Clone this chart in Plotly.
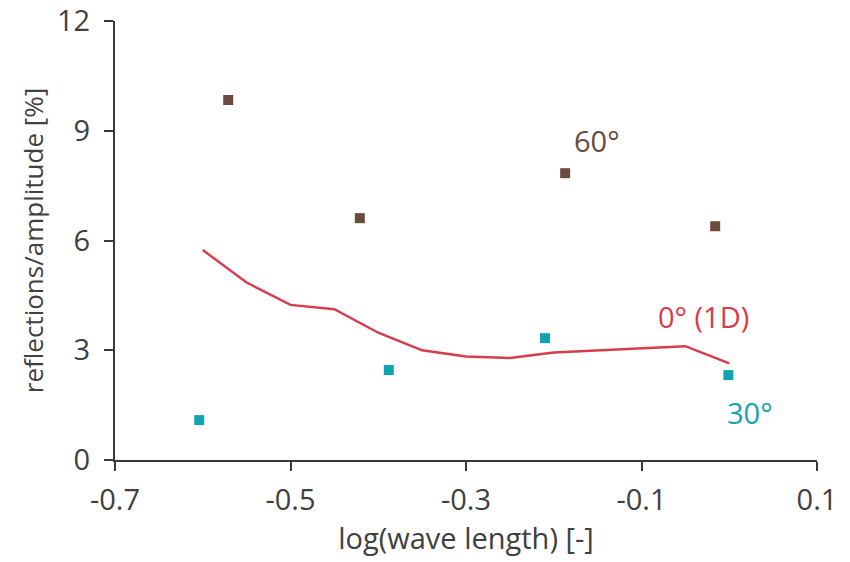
import plotly.graph_objects as go

# 0° (1D) reference curve
x_1d = [-0.6, -0.55, -0.5, -0.45, -0.4, -0.35, -0.3, -0.25, -0.2, -0.15, -0.1, -0.05, 0.0]
y_1d = [5.74, 4.85, 4.24, 4.12, 3.48, 3.0, 2.83, 2.79, 2.94, 3.0, 3.04, 3.11, 2.64]

# 30° measurements
x_30 = [-0.604, -0.388, -0.21, -0.001]
y_30 = [1.09, 2.46, 3.33, 2.32]

# 60° measurements
x_60 = [-0.571, -0.421, -0.187, -0.016]
y_60 = [9.84, 6.61, 7.84, 6.39]

x_ticks = [-0.7, -0.5, -0.3, -0.1, 0.1]
y_ticks = [0, 3, 6, 9, 12]

RED = "#d83b4b"
TEAL = "#12a3b3"
BROWN = "#6b4a3b"
AXIS = "#3a3a3a"
TEXT = "#404040"
FONT = "Open Sans"
FS = 29

fig = go.Figure()
fig.add_trace(go.Scatter(x=x_1d, y=y_1d, mode="lines",
                         line=dict(color=RED, width=2.4), cliponaxis=False))
fig.add_trace(go.Scatter(x=x_30, y=y_30, mode="markers",
                         marker=dict(symbol="square", size=10, color=TEAL), cliponaxis=False))
fig.add_trace(go.Scatter(x=x_60, y=y_60, mode="markers",
                         marker=dict(symbol="square", size=10, color=BROWN), cliponaxis=False))

fig.add_annotation(x=-0.151, y=8.72, text="60°", showarrow=False,
                   font=dict(family=FONT, size=FS, color=BROWN))
fig.add_annotation(x=-0.029, y=3.93, text="0° (1D)", showarrow=False,
                   font=dict(family=FONT, size=FS, color=RED))
fig.add_annotation(x=0.024, y=1.31, text="30°", showarrow=False,
                   font=dict(family=FONT, size=FS, color=TEAL))

fig.update_layout(
    width=850, height=562,
    margin=dict(l=115, r=33, t=21, b=102),
    paper_bgcolor="white", plot_bgcolor="white",
    showlegend=False,
    font=dict(family=FONT, size=FS, color=TEXT),
    xaxis=dict(range=[-0.7, 0.1], tickvals=x_ticks, ticktext=["-0.7", "-0.5", "-0.3", "-0.1", "0.1"],
               automargin=False,
               showgrid=False, zeroline=False, showline=True, linecolor=AXIS, linewidth=2,
               ticks="outside", ticklen=9, tickwidth=2, tickcolor=AXIS,
               ticklabelstandoff=4,
               tickfont=dict(size=FS, color=TEXT),
               title=dict(text="log(wave length) [-]", font=dict(size=FS, color=TEXT), standoff=0)),
    yaxis=dict(range=[0, 12], tickvals=y_ticks,
               automargin=False,
               showgrid=False, zeroline=False, showline=True, linecolor=AXIS, linewidth=2,
               ticks="outside", ticklen=9, tickwidth=2, tickcolor=AXIS,
               ticklabelstandoff=8,
               tickfont=dict(size=FS, color=TEXT),
               title=dict(text="reflections/amplitude [%]", font=dict(size=26, color=TEXT), standoff=6)),
)

fig.write_html("out.html")
